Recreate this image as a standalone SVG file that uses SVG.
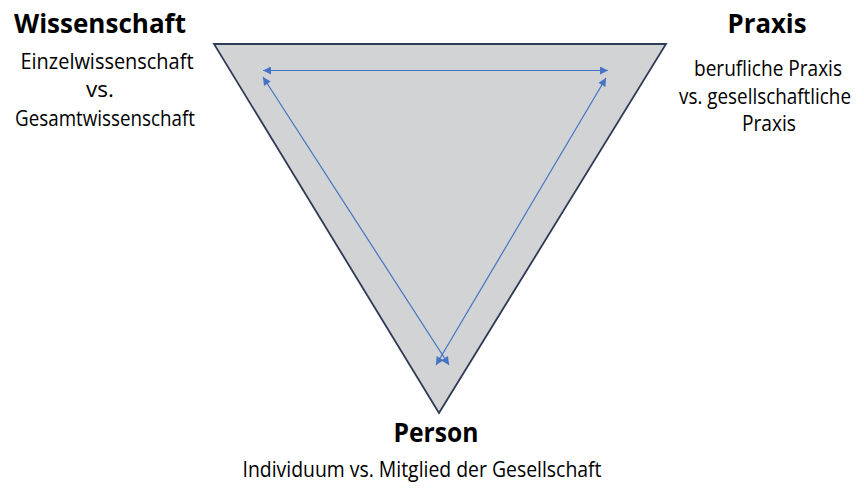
<svg xmlns="http://www.w3.org/2000/svg" width="864" height="488" viewBox="0 0 864 488">
<style>
.t{font-family:"Open Sans","Noto Sans","Liberation Sans",sans-serif;font-weight:bold;font-size:27px;fill:#000;text-anchor:middle}
.b{font-family:"Open Sans","Noto Sans","Liberation Sans",sans-serif;font-size:22.5px;fill:#000;text-anchor:middle}
.a{stroke:#4472c4;stroke-width:1.2;fill:none;marker-start:url(#ah);marker-end:url(#ah)}
</style>
<defs>
<marker id="ah" viewBox="0 0 10 10" refX="10" refY="5" markerWidth="10" markerHeight="8" markerUnits="userSpaceOnUse" orient="auto-start-reverse">
<path d="M0,0 L10,5 L0,10 Z" fill="#4472c4"/>
</marker>
</defs>
<rect width="864" height="488" fill="#fff"/>
<g id="triangle">
<polygon points="214,44 666,44 439,413" fill="#d1d3d4" stroke="#2e3b55" stroke-width="1.8" stroke-linejoin="miter"/>
</g>
<g id="connectors">
<line class="a" x1="263" y1="70.5" x2="608" y2="70.5"/>
<line class="a" x1="263" y1="77" x2="449" y2="365"/>
<line class="a" x1="606" y1="78" x2="436" y2="365"/>
</g>
<g id="wissenschaft">
<text class="t" x="100" y="33" textLength="172" lengthAdjust="spacingAndGlyphs">Wissenschaft</text>
<text class="b" x="107" y="69" textLength="173" lengthAdjust="spacingAndGlyphs">Einzelwissenschaft</text>
<text class="b" x="100" y="97">vs.</text>
<text class="b" x="105" y="126" textLength="180" lengthAdjust="spacingAndGlyphs">Gesamtwissenschaft</text>
</g>
<g id="praxis">
<text class="t" x="767" y="33" textLength="79" lengthAdjust="spacingAndGlyphs">Praxis</text>
<text class="b" x="768" y="76" textLength="148" lengthAdjust="spacingAndGlyphs">berufliche Praxis</text>
<text class="b" x="765" y="104" textLength="172" lengthAdjust="spacingAndGlyphs">vs. gesellschaftliche</text>
<text class="b" x="769" y="131" textLength="54" lengthAdjust="spacingAndGlyphs">Praxis</text>
</g>
<g id="person">
<text class="t" x="436" y="442" textLength="85" lengthAdjust="spacingAndGlyphs">Person</text>
<text class="b" x="422" y="477" textLength="359" lengthAdjust="spacingAndGlyphs">Individuum vs. Mitglied der Gesellschaft</text>
</g>
</svg>
